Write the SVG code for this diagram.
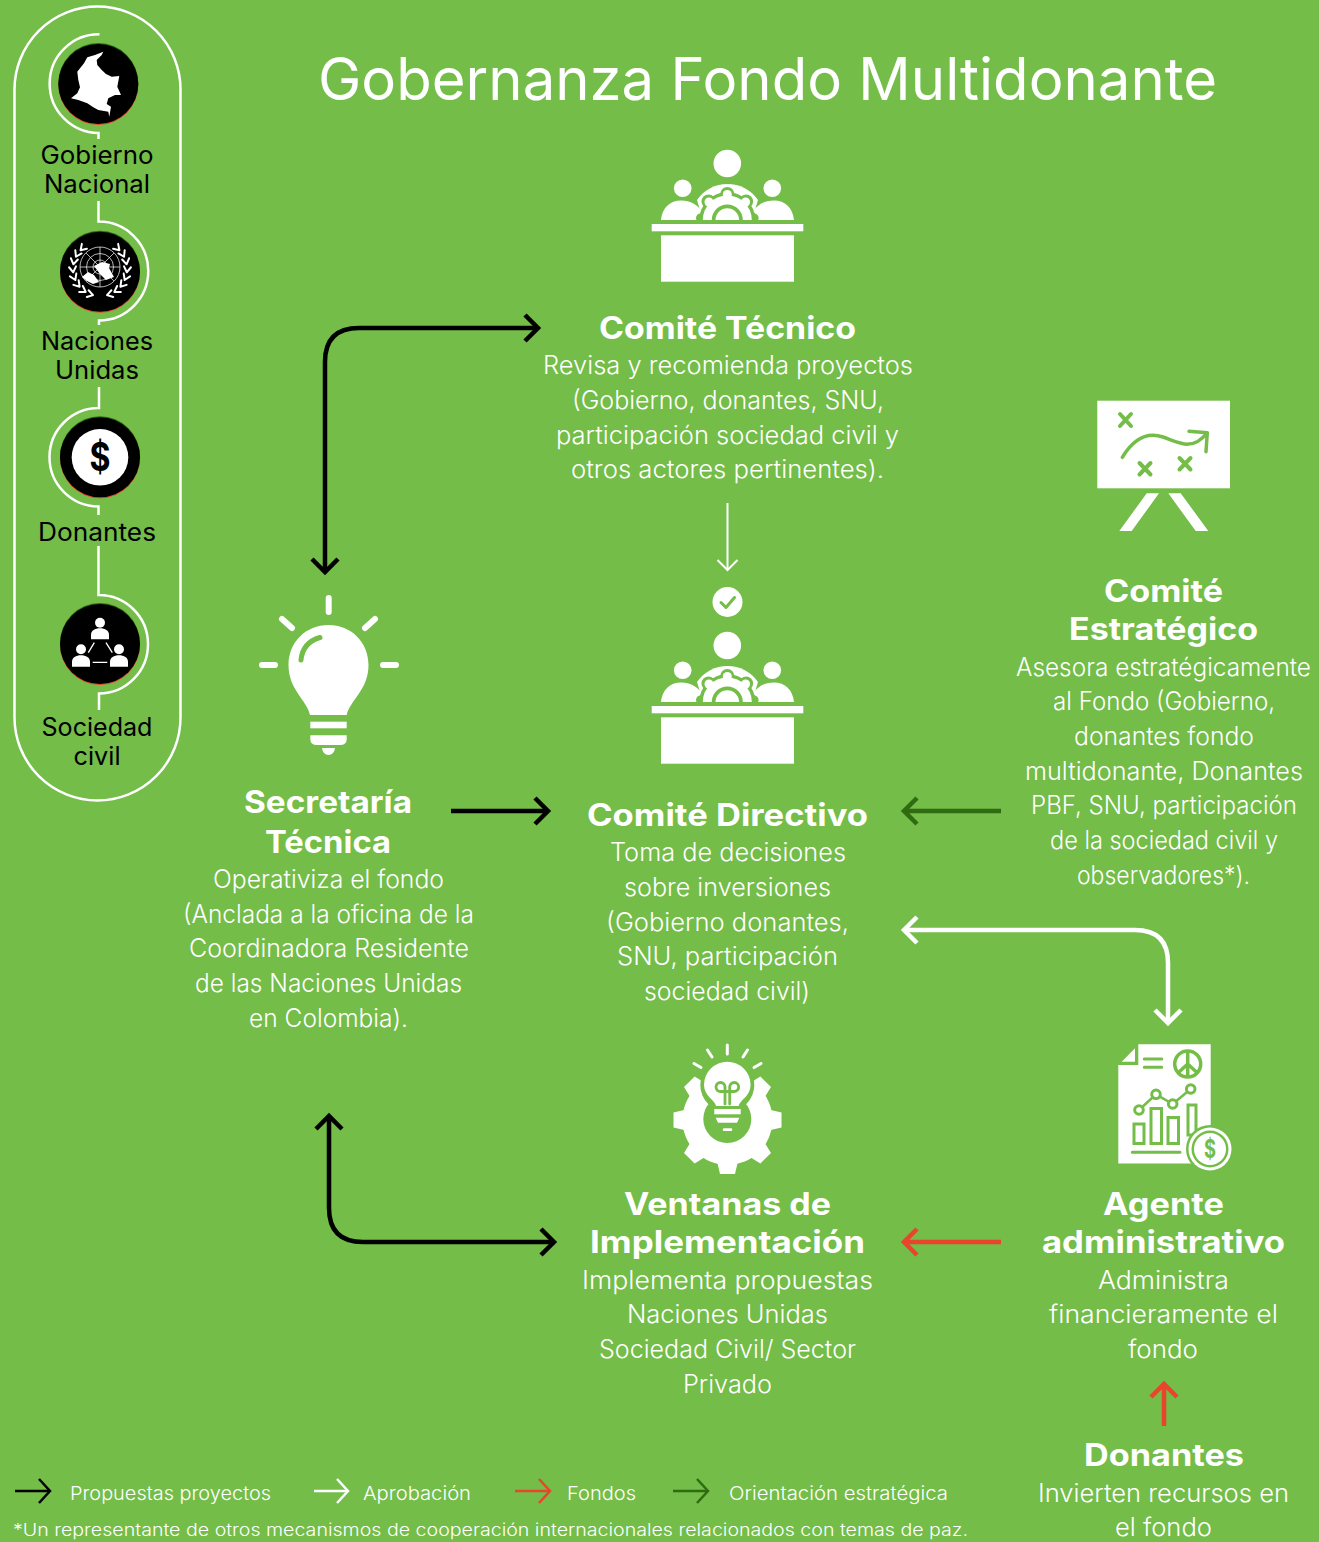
<svg xmlns="http://www.w3.org/2000/svg" xmlns:xlink="http://www.w3.org/1999/xlink" width="1319" height="1542" viewBox="0 0 1319 1542">
<style>
text{font-family:Inter,"Noto Sans","Liberation Sans",sans-serif;text-anchor:middle}
.t{fill:#fff;font-size:25px;font-weight:300;transform:translateY(.7px)}
.h{fill:#fff;font-size:31px;font-weight:700}
.k{fill:#000;font-size:25px;font-weight:400;transform:translateY(.7px)}
.l{fill:#fff;font-size:19px;font-weight:300}
.w{fill:#fff}.g{fill:#73bd48}
.sg{fill:none;stroke:#73bd48;stroke-linecap:round}
.sw{fill:none;stroke:#fff;stroke-linecap:round}
.c{fill:none;stroke-linejoin:miter}
.snake{fill:none;stroke:#fff;stroke-width:2.5}
</style>
<defs>
<marker id="mk" markerUnits="userSpaceOnUse" markerWidth="32" markerHeight="34" refX="18" refY="17" orient="auto-start-reverse"><path d="M5 4L18 17L5 30" fill="none" stroke="#000" stroke-width="4.5"/></marker>
<marker id="mw" markerUnits="userSpaceOnUse" markerWidth="32" markerHeight="34" refX="18" refY="17" orient="auto-start-reverse"><path d="M5 4L18 17L5 30" fill="none" stroke="#fff" stroke-width="4.5"/></marker>
<marker id="mr" markerUnits="userSpaceOnUse" markerWidth="32" markerHeight="34" refX="18" refY="17" orient="auto-start-reverse"><path d="M5 4L18 17L5 30" fill="none" stroke="#e8452c" stroke-width="4.5"/></marker>
<marker id="md" markerUnits="userSpaceOnUse" markerWidth="32" markerHeight="34" refX="18" refY="17" orient="auto-start-reverse"><path d="M5 4L18 17L5 30" fill="none" stroke="#2f6b10" stroke-width="4.5"/></marker>
<marker id="mt" markerUnits="userSpaceOnUse" markerWidth="24" markerHeight="26" refX="12" refY="13" orient="auto-start-reverse"><path d="M2 3L12 13L2 23" fill="none" stroke="#fff" stroke-width="2"/></marker>
<marker id="lk" markerUnits="userSpaceOnUse" markerWidth="24" markerHeight="30" refX="14" refY="15" orient="auto"><path d="M3 3L14 15L3 27" fill="none" stroke="#000" stroke-width="2.5"/></marker>
<marker id="lw" markerUnits="userSpaceOnUse" markerWidth="24" markerHeight="30" refX="14" refY="15" orient="auto"><path d="M3 3L14 15L3 27" fill="none" stroke="#fff" stroke-width="2.5"/></marker>
<marker id="lr" markerUnits="userSpaceOnUse" markerWidth="24" markerHeight="30" refX="14" refY="15" orient="auto"><path d="M3 3L14 15L3 27" fill="none" stroke="#e8452c" stroke-width="2.5"/></marker>
<marker id="ld" markerUnits="userSpaceOnUse" markerWidth="24" markerHeight="30" refX="14" refY="15" orient="auto"><path d="M3 3L14 15L3 27" fill="none" stroke="#2f6b10" stroke-width="2.5"/></marker>
<clipPath id="cg"><rect x="680" y="170" width="95" height="50"/></clipPath>
<g id="committee">
<circle class="w" cx="727.300" cy="163.500" r="13.800"/>
<circle class="w" cx="682.700" cy="188.300" r="8.800"/>
<circle class="w" cx="772.300" cy="188.300" r="8.800"/>
<path class="w" d="M661 220C662 208 670 200.500 681 200.500C691 200.500 697 205 702 211L699 215L699 220Z"/>
<path class="w" d="M794 220C793 208 785 200.500 774 200.500C764 200.500 758 205 753 211L756 215L756 220Z"/>
<g clip-path="url(#cg)">
<path class="w" d="M697 200A37 37 0 0 1 758 200L752 220L703 220Z"/>
<g class="g"><circle cx="727.300" cy="220" r="28"/><circle cx="727.300" cy="194" r="7"/><circle cx="708.500" cy="201.500" r="7"/><circle cx="746.100" cy="201.500" r="7"/><circle cx="700.500" cy="218" r="4.500"/><circle cx="754.100" cy="218" r="4.500"/></g>
<g class="w"><circle cx="727.300" cy="220" r="24.500"/><circle cx="727.300" cy="194.500" r="4.500"/><circle cx="709" cy="202" r="4.500"/><circle cx="745.600" cy="202" r="4.500"/></g>
<circle class="g" cx="727.300" cy="220" r="15.500"/>
<circle class="w" cx="727.300" cy="220" r="11.800"/>
</g>
<rect class="w" x="651.700" y="224" width="151.600" height="7.300"/>
<rect class="w" x="661" y="235.300" width="133" height="46.400"/>
</g>
<path id="tooth" class="w" d="M717 1079L720 1066H735L738 1079Z"/>
<g id="leaf"><path d="M100 296l-5.500-3.500M100 296l-5.500 3.500" fill="none" stroke="#fff" stroke-width="2" stroke-linecap="round"/></g>
<g id="wreath">
<use href="#leaf" xlink:href="#leaf" transform="rotate(15 100 269)"/>
<use href="#leaf" xlink:href="#leaf" transform="rotate(32 100 269)"/>
<use href="#leaf" xlink:href="#leaf" transform="rotate(49 100 269)"/>
<use href="#leaf" xlink:href="#leaf" transform="rotate(66 100 269)"/>
<use href="#leaf" xlink:href="#leaf" transform="rotate(83 100 269)"/>
<use href="#leaf" xlink:href="#leaf" transform="rotate(100 100 269)"/>
<use href="#leaf" xlink:href="#leaf" transform="rotate(117 100 269)"/>
<use href="#leaf" xlink:href="#leaf" transform="rotate(134 100 269)"/>
</g>
</defs>
<rect width="1319" height="1542" fill="#73bd48"/>

<text id="title" x="767.500" y="100" style="fill:#fff;font-size:59px;font-weight:400" textLength="899" lengthAdjust="spacingAndGlyphs">Gobernanza Fondo Multidonante</text>

<g id="actors-frame"><rect x="14.500" y="6.500" width="166" height="794" rx="83" ry="83" fill="none" stroke="#fff" stroke-width="2.500"/></g>

<g id="connectors">
<g id="snake">
<path class="snake" d="M99.500 34.300A49 49 0 0 0 98.500 133V139"/>
<path class="snake" d="M98.500 201V221.500A49 49 0 0 1 99 320.500V325"/>
<path class="snake" d="M99 387V408A49 49 0 0 0 98.500 506.500V515"/>
<path class="snake" d="M98.500 546V595A49 49 0 0 1 99 693.500V710"/>
</g>
<path class="c" stroke="#000" stroke-width="4.500" marker-start="url(#mk)" marker-end="url(#mk)" d="M325 572V362Q325 328 359 328H538"/>
<path class="c" stroke="#fff" stroke-width="2" marker-end="url(#mt)" d="M727.500 503V570"/>
<path class="c" stroke="#000" stroke-width="4.500" marker-end="url(#mk)" d="M451 811H548"/>
<path class="c" stroke="#2f6b10" stroke-width="4.500" marker-end="url(#md)" d="M1001 811H904"/>
<path class="c" stroke="#fff" stroke-width="4.500" marker-start="url(#mw)" marker-end="url(#mw)" d="M904 930H1135Q1168 930 1168 963V1023"/>
<path class="c" stroke="#000" stroke-width="4.500" marker-start="url(#mk)" marker-end="url(#mk)" d="M329 1116V1208Q329 1242 363 1242H554"/>
<path class="c" stroke="#e8452c" stroke-width="4.500" marker-end="url(#mr)" d="M1001 1242H904"/>
<path class="c" stroke="#e8452c" stroke-width="4.500" marker-end="url(#mr)" d="M1164 1426V1384"/>
</g>

<g id="actor-gobierno">
<circle cx="98.300" cy="85" r="40" fill="#e8452c"/><circle cx="98.300" cy="83" r="40" fill="#2f6b10"/><circle cx="98.300" cy="84" r="40" fill="#000"/>
<path class="w" d="M103.300 51.700L95 55L87.300 57.300L84 63.300L80 68.300L77.300 71.700L78.300 80L80 87.300L77.300 93.300L71 98.300L78.300 100L87.300 103.300L93.300 107.300L98.300 110L108.300 111.700L109.300 116.700L111 106.700L106.700 104L108.300 98.300L115 95L121 95L117.300 86.700L119.300 76L111.700 76.700L106 74L101.700 70L97.300 65L96.700 60L101.700 55Z"/>
<text class="k" x="97" y="163" textLength="113" lengthAdjust="spacingAndGlyphs">Gobierno</text><text class="k" x="97" y="192" textLength="106" lengthAdjust="spacingAndGlyphs">Nacional</text>
</g>
<g id="actor-naciones">
<circle cx="100" cy="272.700" r="40" fill="#e8452c"/><circle cx="100" cy="270.700" r="40" fill="#2f6b10"/><circle cx="100" cy="271.700" r="40" fill="#000"/>
<g fill="none" stroke="#fff" stroke-width="0.700">
<circle cx="100" cy="267" r="7"/><circle cx="100" cy="267" r="13.500"/><circle cx="100" cy="267" r="20"/>
<path d="M100 247V287M80 267H120M86 253L114 281M114 253L86 281"/></g>
<path class="w" d="M82 277L88 272L94 275L99 282L93 284L87 281ZM94 266L102 262L110 264L109 268L114 277L106 280L100 274Z"/>
<use href="#wreath" xlink:href="#wreath"/>
<use href="#wreath" xlink:href="#wreath" transform="translate(200 0) scale(-1 1)"/>
<text class="k" x="97" y="349" textLength="112" lengthAdjust="spacingAndGlyphs">Naciones</text><text class="k" x="97" y="378" textLength="84" lengthAdjust="spacingAndGlyphs">Unidas</text>
</g>
<g id="actor-donantes">
<circle cx="100" cy="458.300" r="40" fill="#e8452c"/><circle cx="100" cy="456.300" r="40" fill="#2f6b10"/><circle cx="100" cy="457.300" r="40" fill="#000"/>
<circle class="w" cx="100" cy="457.300" r="28.300"/>
<text x="100" y="471" style="fill:#000;font-size:39px;font-weight:700" textLength="21" lengthAdjust="spacingAndGlyphs">$</text>
<text class="k" x="97" y="540" textLength="118" lengthAdjust="spacingAndGlyphs">Donantes</text>
</g>
<g id="actor-sociedad">
<circle cx="100" cy="645" r="40" fill="#e8452c"/><circle cx="100" cy="643" r="40" fill="#2f6b10"/><circle cx="100" cy="644" r="40" fill="#000"/>
<circle class="w" cx="100" cy="622.700" r="5"/><circle class="w" cx="81" cy="649.300" r="5"/><circle class="w" cx="119" cy="649.300" r="5"/>
<path class="w" d="M91 639.300V635C91 630.500 95 628.300 100 628.300C105 628.300 109 630.500 109 635V639.300Z"/>
<path class="w" d="M72 666.700V662C72 657.500 76 655.300 81 655.300C86 655.300 90 657.500 90 662V666.700Z"/>
<path class="w" d="M110 666.700V662C110 657.500 114 655.300 119 655.300C124 655.300 128 657.500 128 662V666.700Z"/>
<path fill="none" stroke="#fff" stroke-width="1.300" d="M94.300 642.700L88.300 652.700M106 642.700L112.300 652.700M92.700 662.300H107.300"/>
<text class="k" x="97" y="735" textLength="111" lengthAdjust="spacingAndGlyphs">Sociedad</text><text class="k" x="97" y="764" textLength="47" lengthAdjust="spacingAndGlyphs">civil</text>
</g>

<g id="comite-tecnico">
<use href="#committee" xlink:href="#committee"/>
<text class="h" x="727.500" y="339" textLength="257" lengthAdjust="spacingAndGlyphs">Comité Técnico</text>
<text class="t" x="728" y="373" textLength="370" lengthAdjust="spacingAndGlyphs">Revisa y recomienda proyectos</text>
<text class="t" x="728" y="408" textLength="312" lengthAdjust="spacingAndGlyphs">(Gobierno, donantes, SNU,</text>
<text class="t" x="727.500" y="443" textLength="343" lengthAdjust="spacingAndGlyphs">participación sociedad civil y</text>
<text class="t" x="727.500" y="477" textLength="313" lengthAdjust="spacingAndGlyphs">otros actores pertinentes).</text>
</g>

<g id="comite-directivo">
<circle class="w" cx="727.500" cy="602" r="15"/>
<path class="sg" stroke-width="3" stroke-linejoin="round" d="M721 602.500L726 607.500L734.500 597.500"/>
<use href="#committee" xlink:href="#committee" y="482"/>
<text class="h" x="727.500" y="826" textLength="281" lengthAdjust="spacingAndGlyphs">Comité Directivo</text>
<text class="t" x="728" y="860" textLength="236" lengthAdjust="spacingAndGlyphs">Toma de decisiones</text>
<text class="t" x="727.500" y="895" textLength="207" lengthAdjust="spacingAndGlyphs">sobre inversiones</text>
<text class="t" x="727.500" y="930" textLength="243" lengthAdjust="spacingAndGlyphs">(Gobierno donantes,</text>
<text class="t" x="727.500" y="964" textLength="221" lengthAdjust="spacingAndGlyphs">SNU, participación</text>
<text class="t" x="727" y="999" textLength="166" lengthAdjust="spacingAndGlyphs">sociedad civil)</text>
</g>

<g id="comite-estrategico">
<rect class="w" x="1097.300" y="400.700" width="132.700" height="87.600"/>
<path class="w" d="M1146.700 493.300H1159L1131.700 531H1119.300ZM1168.300 493.300H1180.700L1208.300 531H1195.700Z"/>
<path class="sg" stroke-width="4" d="M1120 414L1131 426M1131 414L1120 426M1139.500 463L1150.500 474.500M1150.500 463L1139.500 474.500M1179.500 458L1190.500 469.500M1190.500 458L1179.500 469.500"/>
<path class="sg" stroke-width="3.500" stroke-linejoin="round" d="M1122.300 457.300C1134 438 1148 432 1163 437C1178 442 1192 452 1207 433M1189 431.300L1207.300 432.700L1206 451.700"/>
<text class="h" x="1163.500" y="602" textLength="119" lengthAdjust="spacingAndGlyphs">Comité</text>
<text class="h" x="1163.500" y="640" textLength="189" lengthAdjust="spacingAndGlyphs">Estratégico</text>
<text class="t" x="1163.500" y="675" textLength="295" lengthAdjust="spacingAndGlyphs">Asesora estratégicamente</text>
<text class="t" x="1164" y="709" textLength="222" lengthAdjust="spacingAndGlyphs">al Fondo (Gobierno,</text>
<text class="t" x="1164" y="744" textLength="180" lengthAdjust="spacingAndGlyphs">donantes fondo</text>
<text class="t" x="1164" y="779" textLength="278" lengthAdjust="spacingAndGlyphs">multidonante, Donantes</text>
<text class="t" x="1164" y="813" textLength="266" lengthAdjust="spacingAndGlyphs">PBF, SNU, participación</text>
<text class="t" x="1164" y="848" textLength="228" lengthAdjust="spacingAndGlyphs">de la sociedad civil y</text>
<text class="t" x="1163.500" y="883" textLength="173" lengthAdjust="spacingAndGlyphs">observadores*).</text>
</g>

<g id="secretaria-tecnica">
<path class="sw" stroke-width="6" d="M328.700 598V612M282 619L292 628M375 619L365 628M262 665H275M383 665H396"/>
<path class="w" d="M310 715C307 700 288.500 690 288.500 665C288.500 642 306 625 328.500 625C351 625 368.500 642 368.500 665C368.500 690 350 700 346.700 715Z"/>
<path class="sg" stroke-width="5" d="M320 637.500C308 641 302 649 301 660"/>
<rect class="w" x="310.300" y="721.700" width="36.400" height="6.600"/>
<path class="w" d="M310.300 735.300H346.700V739Q346.700 745 340 745H317Q310.300 745 310.300 739Z"/>
<path class="w" d="M322 748H335Q334 755 328.500 755Q323 755 322 748Z"/>
<text class="h" x="328" y="813" textLength="168" lengthAdjust="spacingAndGlyphs">Secretaría</text>
<text class="h" x="328" y="853" textLength="126" lengthAdjust="spacingAndGlyphs">Técnica</text>
<text class="t" x="328.500" y="887" textLength="231" lengthAdjust="spacingAndGlyphs">Operativiza el fondo</text>
<text class="t" x="328.500" y="922" textLength="291" lengthAdjust="spacingAndGlyphs">(Anclada a la oficina de la</text>
<text class="t" x="329" y="956" textLength="280" lengthAdjust="spacingAndGlyphs">Coordinadora Residente</text>
<text class="t" x="328.500" y="991" textLength="267" lengthAdjust="spacingAndGlyphs">de las Naciones Unidas</text>
<text class="t" x="328.500" y="1026" textLength="159" lengthAdjust="spacingAndGlyphs">en Colombia).</text>
</g>

<g id="ventanas">
<circle class="w" cx="727.500" cy="1120" r="45"/>
<use href="#tooth" xlink:href="#tooth" transform="rotate(45 727.500 1120)"/>
<use href="#tooth" xlink:href="#tooth" transform="rotate(90 727.500 1120)"/>
<use href="#tooth" xlink:href="#tooth" transform="rotate(135 727.500 1120)"/>
<use href="#tooth" xlink:href="#tooth" transform="rotate(180 727.500 1120)"/>
<use href="#tooth" xlink:href="#tooth" transform="rotate(225 727.500 1120)"/>
<use href="#tooth" xlink:href="#tooth" transform="rotate(270 727.500 1120)"/>
<use href="#tooth" xlink:href="#tooth" transform="rotate(315 727.500 1120)"/>
<circle class="g" cx="727.300" cy="1085" r="27"/>
<circle class="g" cx="727.300" cy="1119" r="24"/>
<path class="w" d="M716 1106C715 1100 704 1096 704 1085A23.300 23.300 0 0 1 750.600 1085C750.600 1096 740 1100 738.600 1106Z"/>
<path class="sg" stroke-width="2.800" d="M725 1104V1087A4.500 4.500 0 1 0 720.500 1091.500H734A4.500 4.500 0 1 0 729.700 1087V1104"/>
<rect class="w" x="714.300" y="1109" width="26.400" height="5.300"/>
<path class="w" d="M715.700 1117.700H739.300L737 1122.700H718Z"/>
<rect class="w" x="722.700" y="1128.300" width="9.600" height="2.800" rx="1.400"/>
<path class="sw" stroke-width="3" d="M727.300 1045V1054M707.500 1050L712 1057M747.500 1050L743 1057M694 1063.500L701 1067.500M761 1063.500L754 1067.500"/>
<text class="h" x="727.500" y="1215" textLength="207" lengthAdjust="spacingAndGlyphs">Ventanas de</text>
<text class="h" x="727.500" y="1253" textLength="275" lengthAdjust="spacingAndGlyphs">Implementación</text>
<text class="t" x="727.500" y="1288" textLength="291" lengthAdjust="spacingAndGlyphs">Implementa propuestas</text>
<text class="t" x="727.500" y="1322" textLength="201" lengthAdjust="spacingAndGlyphs">Naciones Unidas</text>
<text class="t" x="727.500" y="1357" textLength="257" lengthAdjust="spacingAndGlyphs">Sociedad Civil/ Sector</text>
<text class="t" x="727.500" y="1392" textLength="89" lengthAdjust="spacingAndGlyphs">Privado</text>
</g>

<g id="agente">
<path class="w" d="M1138.300 1044.300H1210.700V1163.500H1118.300V1065H1138.300Z"/>
<path class="w" d="M1121.700 1061.700L1135 1048.300V1061.700Z"/>
<path class="sg" stroke-width="3" stroke-linecap="butt" d="M1144.300 1059H1161.700M1144.300 1067.300H1161.700M1132.300 1152.300H1180"/>
<circle cx="1187.700" cy="1064" r="13" fill="none" stroke="#73bd48" stroke-width="3.500"/>
<path fill="none" stroke="#73bd48" stroke-width="3.500" d="M1187.700 1052V1076M1187.700 1064L1178.500 1072.500M1187.700 1064L1197 1072.500"/>
<path fill="none" stroke="#73bd48" stroke-width="2.500" d="M1139 1110L1156 1094.300L1172.700 1104L1190.700 1089"/>
<g fill="#fff" stroke="#73bd48" stroke-width="3"><circle cx="1139" cy="1110" r="4.300"/><circle cx="1156" cy="1094.300" r="4.300"/><circle cx="1172.700" cy="1104" r="4.300"/><circle cx="1190.700" cy="1089" r="4.300"/>
<rect x="1134" y="1124" width="10" height="19.500"/><rect x="1151" y="1108.500" width="10.500" height="35"/><rect x="1168" y="1117.500" width="10.500" height="26"/><rect x="1188" y="1105" width="8" height="30"/></g>
<circle class="g" cx="1210" cy="1149" r="24"/><circle class="w" cx="1210" cy="1149" r="21.500"/><circle class="g" cx="1210" cy="1149" r="18.500"/><circle class="w" cx="1210" cy="1149" r="16"/>
<text x="1210" y="1158" style="fill:#73bd48;font-size:25px;font-weight:700" textLength="12" lengthAdjust="spacingAndGlyphs">$</text>
<text class="h" x="1163.500" y="1215" textLength="121" lengthAdjust="spacingAndGlyphs">Agente</text>
<text class="h" x="1163.500" y="1253" textLength="243" lengthAdjust="spacingAndGlyphs">administrativo</text>
<text class="t" x="1163.500" y="1288" textLength="131" lengthAdjust="spacingAndGlyphs">Administra</text>
<text class="t" x="1163.500" y="1322" textLength="229" lengthAdjust="spacingAndGlyphs">financieramente el</text>
<text class="t" x="1163" y="1357" textLength="70" lengthAdjust="spacingAndGlyphs">fondo</text>
</g>

<g id="donantes">
<text class="h" x="1164" y="1466" textLength="160" lengthAdjust="spacingAndGlyphs">Donantes</text>
<text class="t" x="1163.500" y="1501" textLength="251" lengthAdjust="spacingAndGlyphs">Invierten recursos en</text>
<text class="t" x="1163.500" y="1535" textLength="97" lengthAdjust="spacingAndGlyphs">el fondo</text>
</g>

<g id="legend">
<path stroke="#000" stroke-width="2.500" fill="none" marker-end="url(#lk)" d="M15 1491H50"/>
<path stroke="#fff" stroke-width="2.500" fill="none" marker-end="url(#lw)" d="M314 1491H348"/>
<path stroke="#e8452c" stroke-width="2.500" fill="none" marker-end="url(#lr)" d="M515 1491H550"/>
<path stroke="#2f6b10" stroke-width="2.500" fill="none" marker-end="url(#ld)" d="M673 1491H708"/>
<text class="l" x="170.500" y="1500" textLength="201" lengthAdjust="spacingAndGlyphs">Propuestas proyectos</text>
<text class="l" x="417" y="1500" textLength="108" lengthAdjust="spacingAndGlyphs">Aprobación</text>
<text class="l" x="601.500" y="1500" textLength="69" lengthAdjust="spacingAndGlyphs">Fondos</text>
<text class="l" x="838.500" y="1500" textLength="219" lengthAdjust="spacingAndGlyphs">Orientación estratégica</text>
<text class="l" x="490.500" y="1536" style="font-size:17px" textLength="955" lengthAdjust="spacingAndGlyphs">*Un representante de otros mecanismos de cooperación internacionales relacionados con temas de paz.</text>
</g>
</svg>
